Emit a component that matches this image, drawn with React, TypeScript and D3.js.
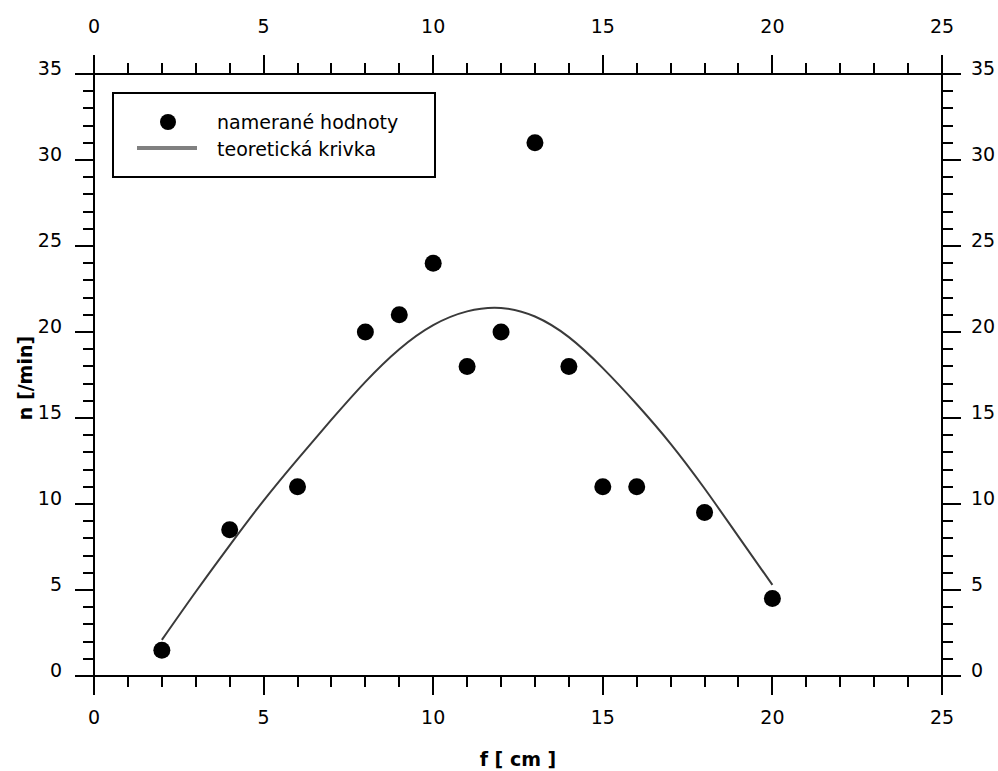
import React, { useRef, useEffect } from "react";
import * as d3 from "d3";

// measured values
const measuredF = [2, 4, 6, 8, 9, 10, 11, 12, 13, 14, 15, 16, 18, 20];
const measuredN = [1.5, 8.5, 11, 20, 21, 24, 18, 20, 31, 18, 11, 11, 9.5, 4.5];

// theoretical curve
const curveF = [2, 3, 4, 5, 6, 7, 8, 9, 10, 11, 12, 13, 14, 15, 16, 17, 18, 19, 20];
const curveN = [2.1, 4.9, 7.6, 10.2, 12.6, 14.9, 17.1, 19.0, 20.4, 21.2, 21.4, 20.9, 19.7, 17.9, 15.8, 13.5, 10.9, 8.1, 5.3];

const xTicks = [0, 5, 10, 15, 20, 25];
const yTicks = [0, 5, 10, 15, 20, 25, 30, 35];
const xMinor = d3.range(0, 26, 1);
const yMinor = d3.range(0, 36, 1);

const legendLabels = ["namerané hodnoty", "teoretická krivka"];

const width = 998;
const height = 771;
const margin = { top: 74, right: 56, bottom: 95, left: 94 };

const App = () => {
  const ref = useRef<SVGSVGElement>(null);

  useEffect(() => {
    const svg = d3.select(ref.current);
    svg.selectAll("*").remove();

    const x = d3.scaleLinear().domain([0, 25]).range([margin.left, width - margin.right]);
    const y = d3.scaleLinear().domain([0, 35]).range([height - margin.bottom, margin.top]);

    const x0 = x(0), x1 = x(25), y0 = y(0), y1 = y(35);
    const font = "'DejaVu Sans', sans-serif";
    const major = 19, minor = 11;

    const g = svg.append("g").attr("stroke", "#000").attr("stroke-width", 2).attr("shape-rendering", "crispEdges");

    // frame
    g.append("rect").attr("x", x0).attr("y", y1).attr("width", x1 - x0).attr("height", y0 - y1).attr("fill", "none");

    // x ticks, bottom and top
    xMinor.forEach(v => {
      const len = v % 5 === 0 ? major : minor;
      g.append("line").attr("x1", x(v)).attr("x2", x(v)).attr("y1", y0).attr("y2", y0 + len);
      g.append("line").attr("x1", x(v)).attr("x2", x(v)).attr("y1", y1).attr("y2", y1 - len);
    });
    // y ticks, left and right
    yMinor.forEach(v => {
      const len = v % 5 === 0 ? major : minor;
      g.append("line").attr("y1", y(v)).attr("y2", y(v)).attr("x1", x0).attr("x2", x0 - len);
      g.append("line").attr("y1", y(v)).attr("y2", y(v)).attr("x1", x1).attr("x2", x1 + len);
    });

    const labels = svg.append("g").attr("font-family", font).attr("font-size", 19).attr("fill", "#000");
    xTicks.forEach(v => {
      labels.append("text").attr("x", x(v)).attr("y", y0 + 48).attr("text-anchor", "middle").text(v);
      labels.append("text").attr("x", x(v)).attr("y", y1 - 41).attr("text-anchor", "middle").text(v);
    });
    yTicks.forEach(v => {
      labels.append("text").attr("x", x0 - 32).attr("y", y(v) + 1).attr("text-anchor", "end").text(v);
      labels.append("text").attr("x", x1 + 29).attr("y", y(v) + 1).attr("text-anchor", "start").text(v);
    });

    // axis titles
    svg.append("text")
      .attr("x", (x0 + x1) / 2).attr("y", 766)
      .attr("text-anchor", "middle").attr("font-family", font).attr("font-size", 19).attr("font-weight", "bold")
      .text("f [ cm ]");
    svg.append("text")
      .attr("transform", `translate(32,${(y0 + y1) / 2 + 3}) rotate(-90)`)
      .attr("text-anchor", "middle").attr("font-family", font).attr("font-size", 19).attr("font-weight", "bold")
      .text("n [/min]");

    // theoretical curve
    const line = d3.line<number>()
      .x(i => x(curveF[i]))
      .y(i => y(curveN[i]))
      .curve(d3.curveNatural);
    svg.append("path")
      .attr("d", line(d3.range(curveF.length)))
      .attr("fill", "none")
      .attr("stroke", "#3a3a3a")
      .attr("stroke-width", 2);

    // measured points
    svg.append("g").selectAll("circle")
      .data(measuredF)
      .join("circle")
      .attr("cx", d => x(d))
      .attr("cy", (d, i) => y(measuredN[i]))
      .attr("r", 8.5)
      .attr("fill", "#000");

    // legend
    const leg = svg.append("g");
    leg.append("rect").attr("x", 113).attr("y", 93).attr("width", 322).attr("height", 84)
      .attr("fill", "#fff").attr("stroke", "#000").attr("stroke-width", 2).attr("shape-rendering", "crispEdges");
    leg.append("circle").attr("cx", 168).attr("cy", 122).attr("r", 8).attr("fill", "#000");
    leg.append("line").attr("x1", 137).attr("x2", 197).attr("y1", 148).attr("y2", 148)
      .attr("stroke", "#808080").attr("stroke-width", 4);
    legendLabels.forEach((t, i) => {
      leg.append("text").attr("x", 217).attr("y", 129 + i * 27)
        .attr("font-family", font).attr("font-size", 19).attr("fill", "#000").text(t);
    });
  }, []);

  return (
    <div>
      <svg ref={ref} width={width} height={height}
        style={{ position: "absolute", left: 0, top: 0, background: "#fff" }} />
    </div>
  );
};

export default App;
